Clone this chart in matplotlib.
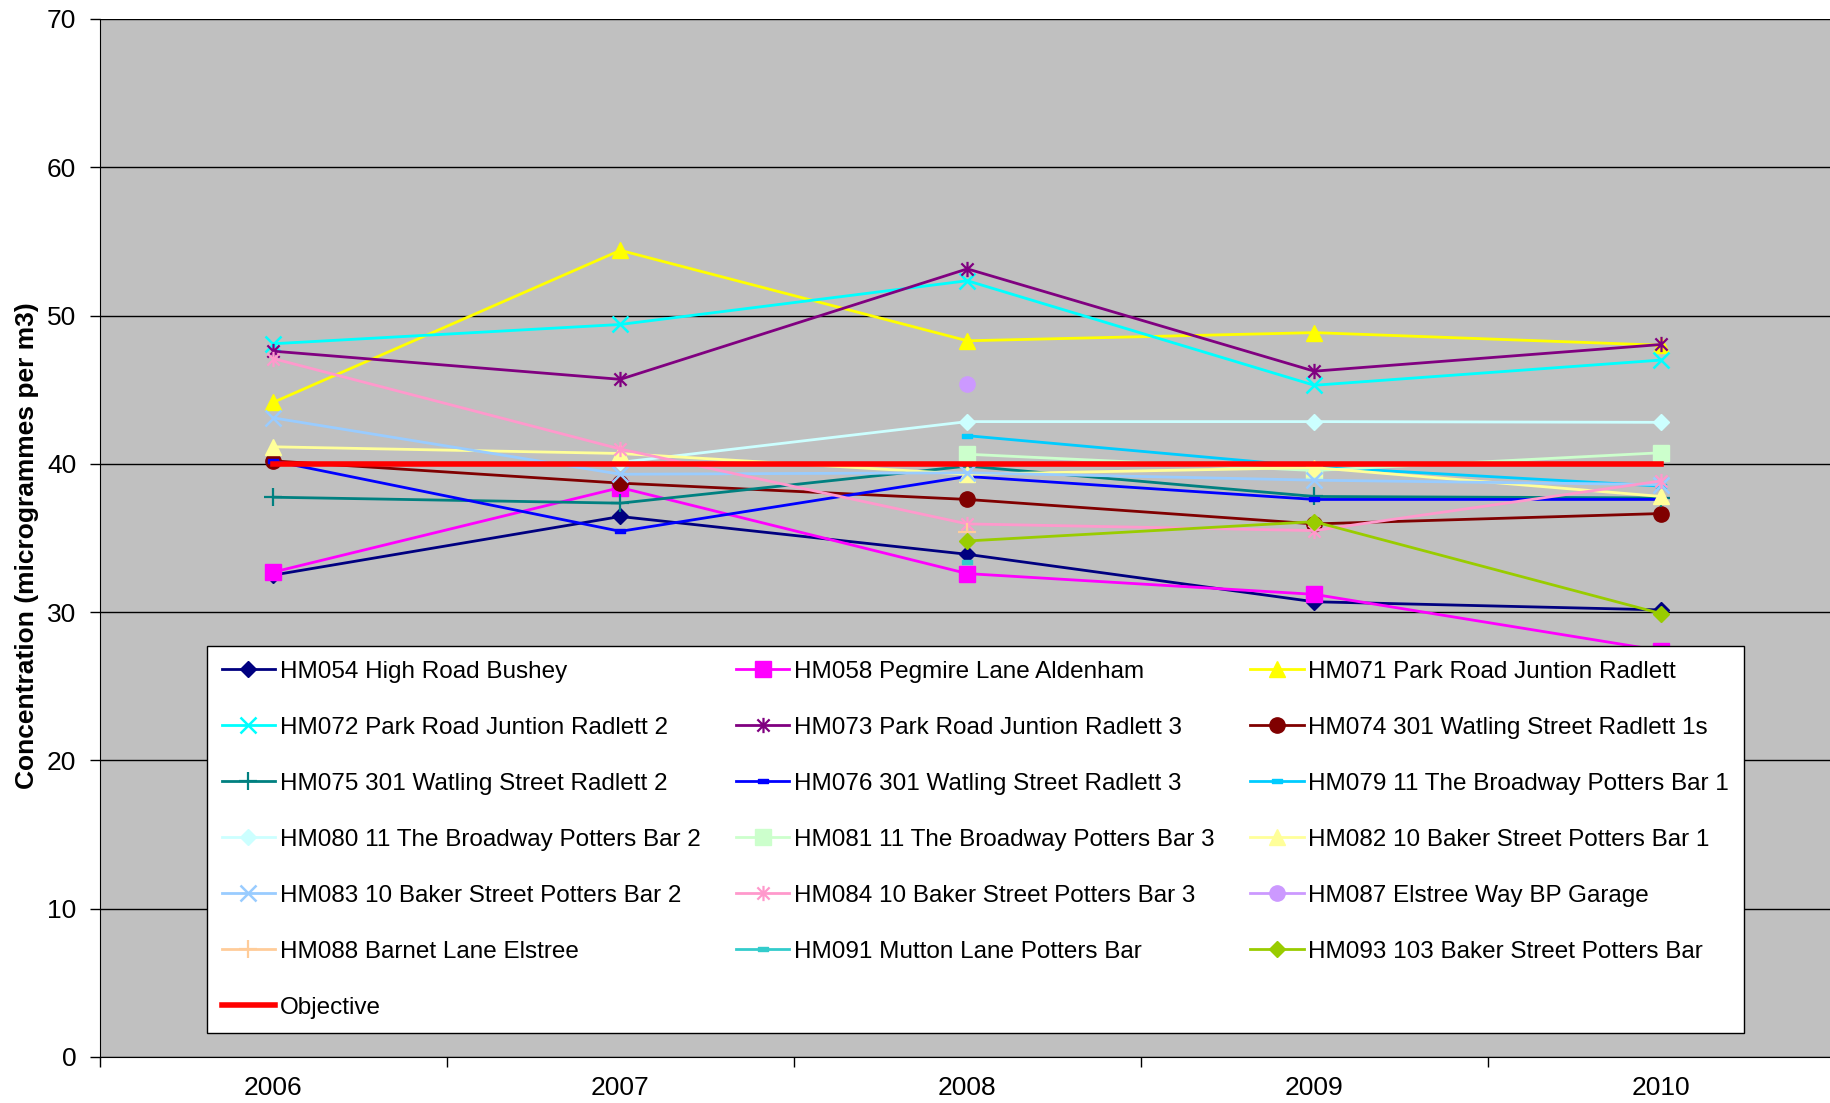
import numpy as np
import matplotlib
matplotlib.use("Agg")
import matplotlib.pyplot as plt
from matplotlib.path import Path

plt.rcParams['font.family'] = ['Liberation Sans', 'DejaVu Sans']

years = ["2006", "2007", "2008", "2009", "2010"]
nan = np.nan

hm054 = [32.5, 36.45, 33.9, 30.7, 30.15]
hm058 = [32.7, 38.4, 32.6, 31.2, 27.4]
hm071 = [44.15, 54.4, 48.3, 48.85, 48.0]
hm072 = [48.1, 49.4, 52.35, 45.3, 47.0]
hm073 = [47.6, 45.7, 53.15, 46.25, 48.05]
hm074 = [40.2, 38.7, 37.6, 35.95, 36.65]
hm075 = [37.75, 37.35, 39.85, 37.8, 37.7]
hm076 = [40.2, 35.45, 39.15, 37.6, 37.6]
hm079 = [nan, nan, 41.9, 39.8, 38.5]
hm080 = [nan, 40.1, 42.85, 42.85, 42.8]
hm081 = [nan, nan, 40.65, 39.55, 40.75]
hm082 = [41.15, 40.7, 39.3, 39.75, 37.8]
hm083 = [43.1, 39.3, 39.4, 38.9, 38.6]
hm084 = [47.1, 41.0, 35.95, 35.5, 38.85]
hm087 = [nan, nan, 45.4, nan, nan]
hm088 = [nan, nan, 35.4, nan, nan]
hm091 = [nan, nan, 33.4, nan, nan]
hm093 = [nan, nan, 34.8, 36.1, 29.9]
objective = [40, 40, 40, 40, 40]

labels = [
    "HM054 High Road Bushey", "HM058 Pegmire Lane Aldenham", "HM071 Park Road Juntion Radlett",
    "HM072 Park Road Juntion Radlett 2", "HM073 Park Road Juntion Radlett 3",
    "HM074 301 Watling Street Radlett 1s", "HM075 301 Watling Street Radlett 2",
    "HM076 301 Watling Street Radlett 3", "HM079 11 The Broadway Potters Bar 1",
    "HM080 11 The Broadway Potters Bar 2", "HM081 11 The Broadway Potters Bar 3",
    "HM082 10 Baker Street Potters Bar 1", "HM083 10 Baker Street Potters Bar 2",
    "HM084 10 Baker Street Potters Bar 3", "HM087 Elstree Way BP Garage",
    "HM088 Barnet Lane Elstree", "HM091 Mutton Lane Potters Bar",
    "HM093 103 Baker Street Potters Bar", "Objective",
]
series = [hm054, hm058, hm071, hm072, hm073, hm074, hm075, hm076, hm079, hm080,
          hm081, hm082, hm083, hm084, hm087, hm088, hm091, hm093, objective]

# custom markers
star = Path([(-1, -1), (1, 1), (-1, 1), (1, -1), (0, -1.25), (0, 1.25)],
            [Path.MOVETO, Path.LINETO, Path.MOVETO, Path.LINETO, Path.MOVETO, Path.LINETO])
dash = Path([(-1, -0.4), (1, -0.4), (1, 0.4), (-1, 0.4), (-1, -0.4)],
            [Path.MOVETO, Path.LINETO, Path.LINETO, Path.LINETO, Path.CLOSEPOLY])

styles = [
    dict(color='#000080', marker='D', ms=8),
    dict(color='#FF00FF', marker='s', ms=11),
    dict(color='#FFFF00', marker='^', ms=12),
    dict(color='#00FFFF', marker='x', ms=11, mew=1.8),
    dict(color='#800080', marker=star, ms=11, mew=1.6, mfc='none'),
    dict(color='#800000', marker='o', ms=11),
    dict(color='#008080', marker='+', ms=13, mew=1.6),
    dict(color='#0000FF', marker=dash, ms=7),
    dict(color='#00CCFF', marker=dash, ms=7),
    dict(color='#CCFFFF', marker='D', ms=8),
    dict(color='#CCFFCC', marker='s', ms=11),
    dict(color='#FFFF99', marker='^', ms=12),
    dict(color='#99CCFF', marker='x', ms=11, mew=1.8),
    dict(color='#FF99CC', marker=star, ms=11, mew=1.6, mfc='none'),
    dict(color='#CC99FF', marker='o', ms=11),
    dict(color='#FFCC99', marker='+', ms=13, mew=1.6),
    dict(color='#33CCCC', marker=dash, ms=7),
    dict(color='#99CC00', marker='D', ms=8),
    dict(color='#FF0000', marker=None, lw=4),
]

W, H = 1831, 1103
fig = plt.figure(figsize=(W / 100, H / 100), dpi=100)
ax = fig.add_axes([99.8 / W, 1 - 1057 / H, 1735 / W, (1057 - 19) / H])
ax.set_facecolor('#C0C0C0')

x = np.arange(len(years))
handles = []
for vals, lab, st in zip(series, labels, styles):
    st = dict(st)
    color = st.pop('color')
    lw = st.pop('lw', 2)
    h, = ax.plot(x, vals, color=color, lw=lw, mec=color,
                 mfc=st.pop('mfc', color), label=lab, **st)
    handles.append(h)

ax.set_xlim(-0.5, len(years) - 0.5)
ax.set_ylim(0, 70)
ax.set_yticks(range(0, 71, 10))
ax.set_xticks(x)
ax.set_xticklabels(years)
ax.set_xticks(np.arange(-0.5, len(years) + 0.5, 1), minor=True)
ax.tick_params(axis='x', which='major', length=0, pad=14, labelsize=19)
ax.tick_params(axis='x', which='minor', length=7, width=1, direction='out')
ax.tick_params(axis='y', length=7, width=1, direction='out', pad=10, labelsize=19)
ax.grid(axis='y', color='#000000', lw=1)
ax.set_axisbelow(True)
for s in ['top', 'right']:
    ax.spines[s].set_visible(False)
ax.spines['left'].set_color('black')
ax.spines['bottom'].set_color('black')
ax.set_ylabel("Concentration (microgrammes per m3)", fontsize=19, fontweight='bold')
ax.yaxis.set_label_coords(-(99.8 - 39) / 1735, (1057 - 546) / 1038)

# row-major legend order (as in the original) -> column-major for matplotlib
order = [0, 3, 6, 9, 12, 15, 18, 1, 4, 7, 10, 13, 16, 2, 5, 8, 11, 14, 17]
leg = ax.legend([handles[i] for i in order], [labels[i] for i in order], ncol=3,
                loc='upper left', bbox_to_anchor=(207 / W, 1 - 646 / H),
                bbox_transform=fig.transFigure, borderaxespad=0, borderpad=0.6,
                fontsize=17.5, labelspacing=1.4, handlelength=2.2, handletextpad=0.2,
                columnspacing=1.45, frameon=True, fancybox=False, framealpha=1,
                edgecolor='black')
leg.get_frame().set_linewidth(1)

fig.savefig("out.png", dpi=100)
